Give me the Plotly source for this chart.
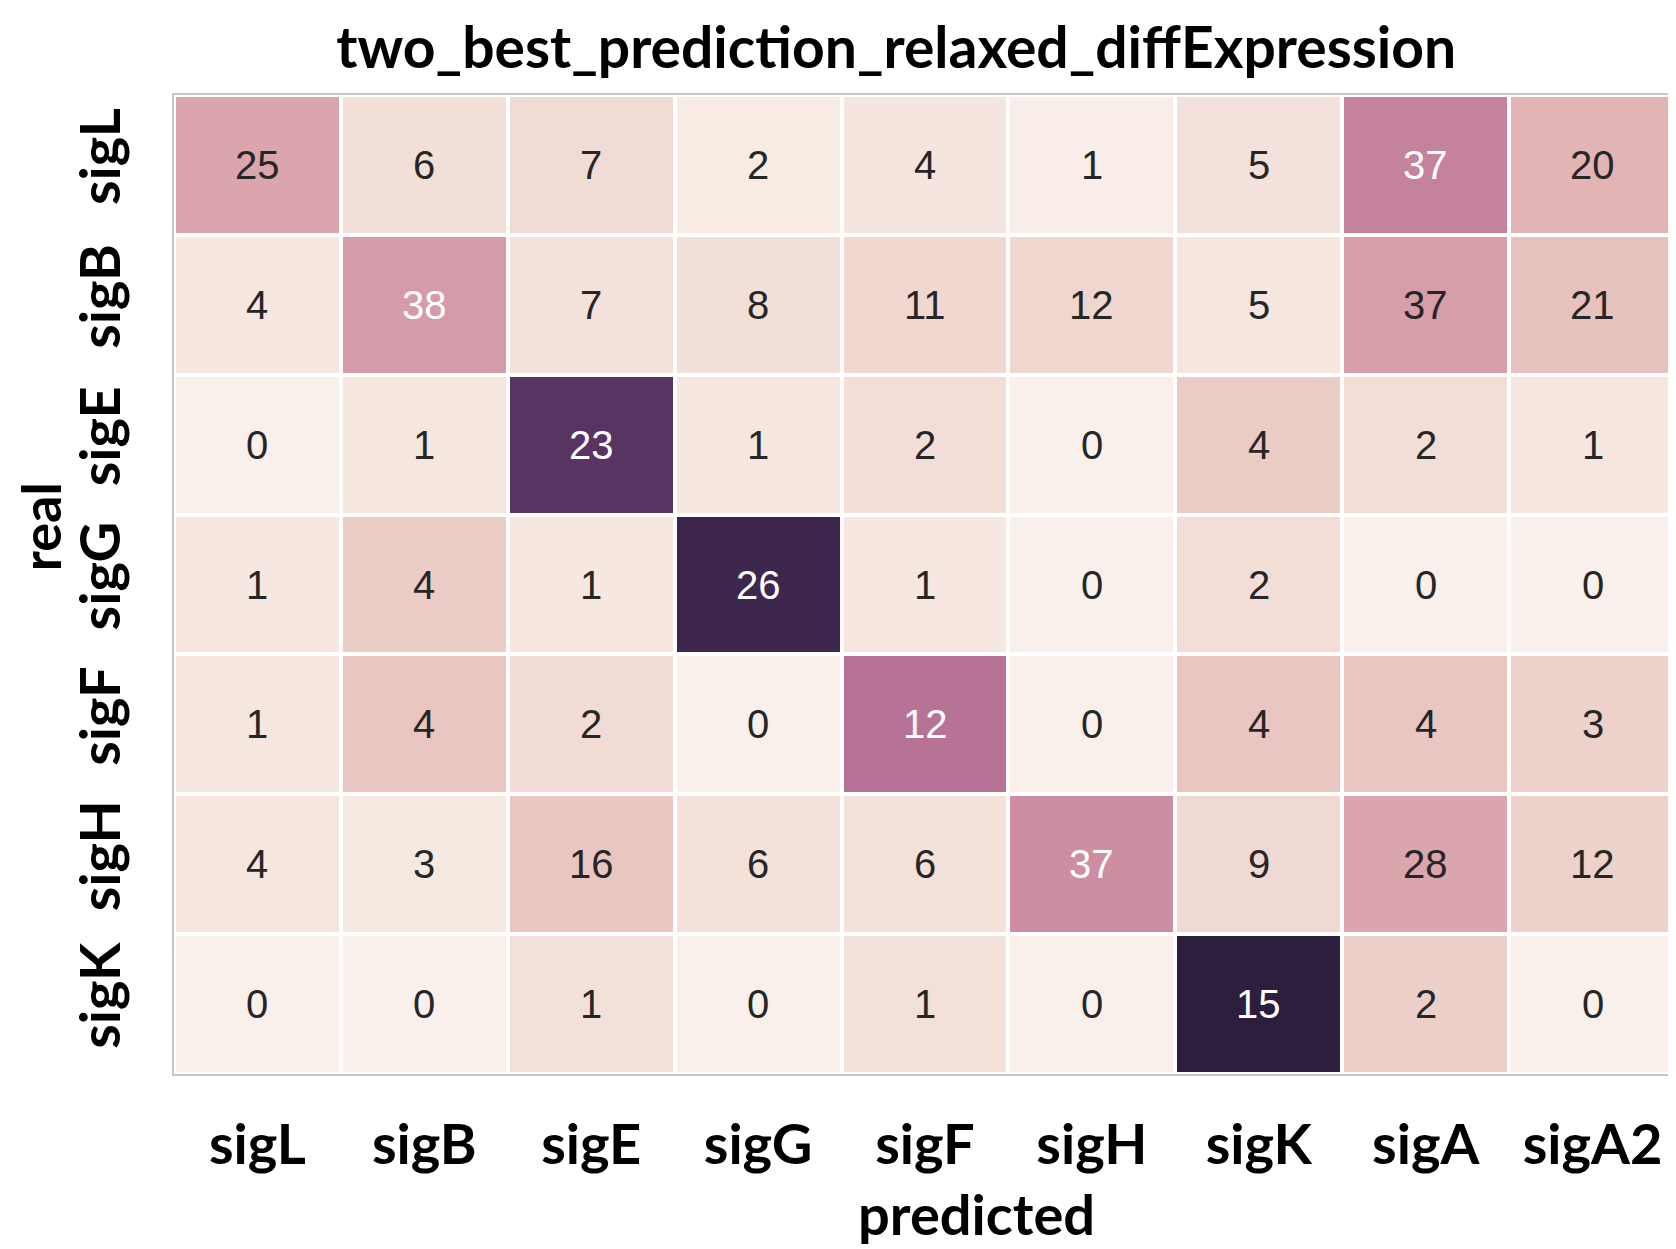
import numpy as np
import plotly.graph_objects as go

predicted = ["sigL", "sigB", "sigE", "sigG", "sigF", "sigH", "sigK", "sigA", "sigA2"]
real = ["sigL", "sigB", "sigE", "sigG", "sigF", "sigH", "sigK"]

counts_sigL = [25, 6, 7, 2, 4, 1, 5, 37, 20]
counts_sigB = [4, 38, 7, 8, 11, 12, 5, 37, 21]
counts_sigE = [0, 1, 23, 1, 2, 0, 4, 2, 1]
counts_sigG = [1, 4, 1, 26, 1, 0, 2, 0, 0]
counts_sigF = [1, 4, 2, 0, 12, 0, 4, 4, 3]
counts_sigH = [4, 3, 16, 6, 6, 37, 9, 28, 12]
counts_sigK = [0, 0, 1, 0, 1, 0, 15, 2, 0]

counts = np.array([counts_sigL, counts_sigB, counts_sigE, counts_sigG,
                   counts_sigF, counts_sigH, counts_sigK], dtype=float)
frac = counts / counts.sum(axis=1, keepdims=True)
zmin, zmax = frac.min(), frac.max()


# seaborn-style cubehelix colormap (light=.95, dark=.15)
def cubehelix(x, gamma=1.0, s=0.0, r=0.4, h=0.8):
    xg = x ** gamma
    a = h * xg * (1 - xg) / 2
    phi = 2 * np.pi * (s / 3 + r * x)
    R = xg + a * (-0.14861 * np.cos(phi) + 1.78277 * np.sin(phi))
    G = xg + a * (-0.29227 * np.cos(phi) - 0.90649 * np.sin(phi))
    B = xg + a * (1.97294 * np.cos(phi))
    return np.clip(np.array([R, G, B]), 0, 1)


LIGHT, DARK = 0.95, 0.15


def cmap(t):
    return cubehelix(LIGHT + (DARK - LIGHT) * t)


colorscale = []
for t in np.linspace(0, 1, 33):
    rgb = cmap(t)
    colorscale.append([float(t), "rgb(%d,%d,%d)" % tuple((rgb * 255).round().astype(int))])


def rel_lum(rgb):
    lin = np.where(rgb <= 0.03928, rgb / 12.92, ((rgb + 0.055) / 1.055) ** 2.4)
    return 0.2126 * lin[0] + 0.7152 * lin[1] + 0.0722 * lin[2]


fig = go.Figure(go.Heatmap(
    z=frac, x=predicted, y=real, colorscale=colorscale, zmin=zmin, zmax=zmax,
    xgap=4, ygap=4, showscale=False, hoverinfo="skip",
))

annotations = []
for i, rname in enumerate(real):
    for j, pname in enumerate(predicted):
        t = (frac[i, j] - zmin) / (zmax - zmin)
        col = "#262626" if rel_lum(cmap(t)) > 0.408 else "white"
        annotations.append(dict(
            x=pname, y=rname, xref="x", yref="y", text=str(int(counts[i, j])),
            showarrow=False, font=dict(family="Liberation Sans", size=40, color=col),
        ))

bold = dict(family="Lato", size=56, color="black", weight="bold")
annotations.append(dict(
    text="predicted", xref="paper", yref="paper", x=0.534, y=-0.142,
    xanchor="center", yanchor="middle", showarrow=False, font=bold,
))
annotations.append(dict(
    text="real", xref="paper", yref="paper", x=-0.0891, y=0.5587, textangle=-90,
    xanchor="center", yanchor="middle", showarrow=False,
    font=dict(family="Lato", size=54, color="black", weight="bold"),
))

fig.update_layout(
    width=1676, height=1249,
    margin=dict(l=166, r=6, t=87, b=183),
    paper_bgcolor="white", plot_bgcolor="white",
    title=dict(text="two_best_prediction_relaxed_diffExpression",
               x=0.53, xanchor="center", y=1 - 40 / 1249, yanchor="middle",
               font=dict(family="Lato", size=57, color="black", weight="bold")),
    annotations=annotations,
)
fig.update_xaxes(showgrid=False, zeroline=False, ticks="", showline=True, mirror=True,
                 linecolor="#c6c6c6", linewidth=2, tickfont=bold, ticklabelstandoff=21)
fig.update_yaxes(showgrid=False, zeroline=False, ticks="", showline=True, mirror=True,
                 linecolor="#c6c6c6", linewidth=2, tickfont=bold, autorange="reversed",
                 tickangle=-90, ticklabelstandoff=30)

fig.write_html("out.html")
